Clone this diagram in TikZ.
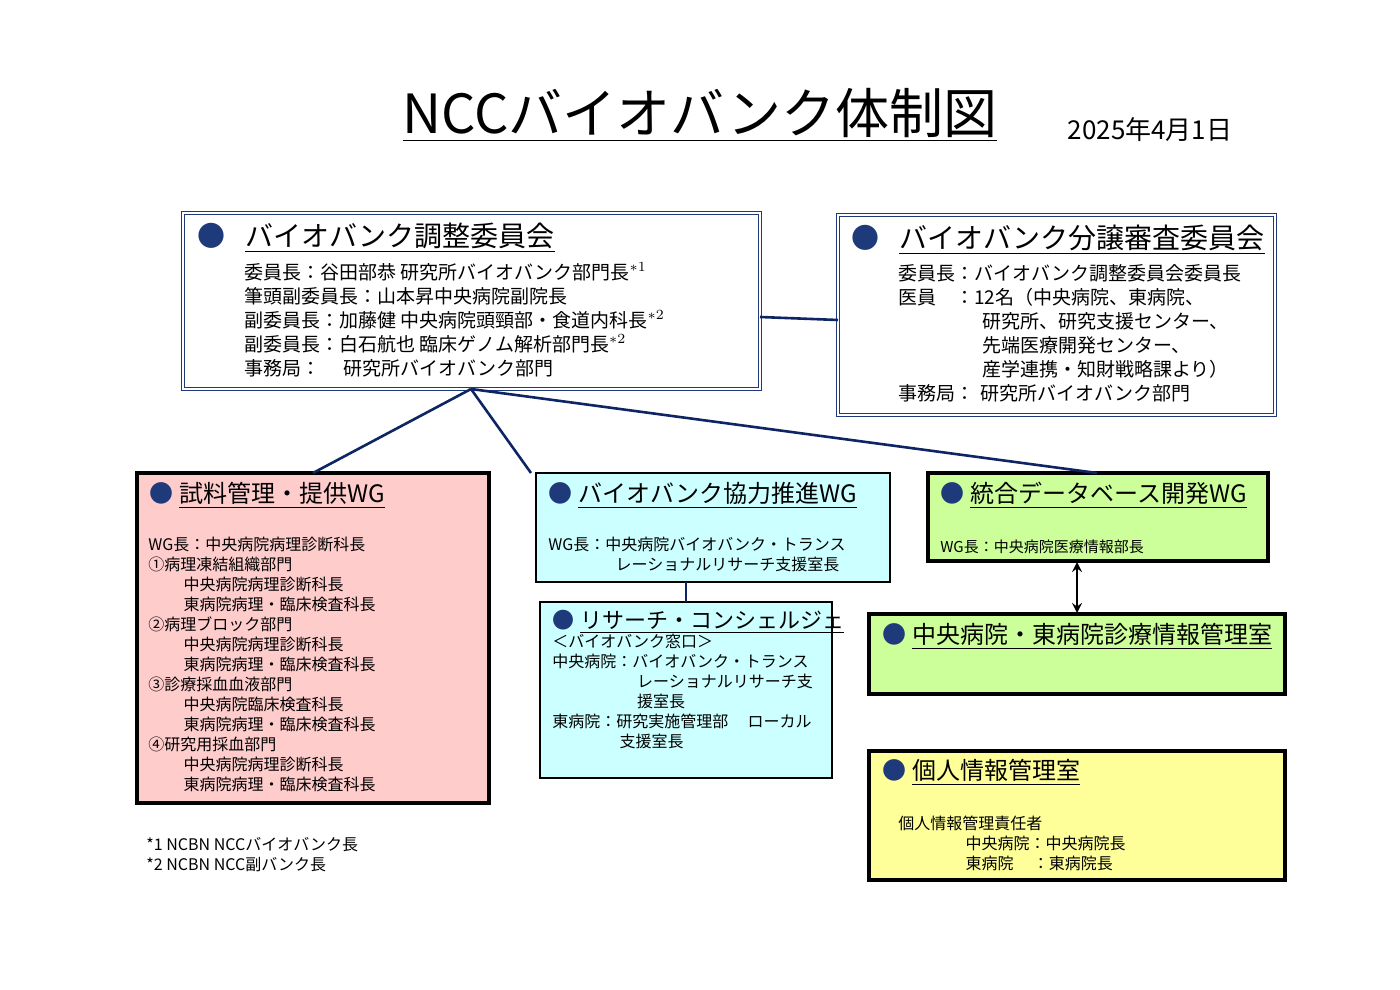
\documentclass[tikz,border=0pt]{standalone}
\usepackage{fontspec}
\setmainfont{Noto Sans CJK JP}
\newfontfamily\lat{Carlito}
\definecolor{navyb}{HTML}{1F3A7A}
\definecolor{lnk}{HTML}{0E2563}
\definecolor{pinkf}{HTML}{FFCCCC}
\definecolor{cyanf}{HTML}{CCFFFF}
\definecolor{greenf}{HTML}{CCFF99}
\definecolor{yellf}{HTML}{FFFF99}
\newcommand{\bul}{\textcolor{navyb}{●}}
\tikzset{x=0.5pt,y=-0.5pt,
 topbox/.style={draw=navyb,double,double distance=1.2pt,line width=0.5pt},
 wgbox/.style={draw=black,line width=1.6pt},
 body/.style={anchor=north west,align=left,inner sep=0pt,font=\fontsize{8}{10}\selectfont},
 ttl/.style={anchor=west,inner sep=0pt,font=\fontsize{12}{14}\selectfont},
 link/.style={draw=lnk,line width=1.3pt}}
\begin{document}
\begin{tikzpicture}
\useasboundingbox (0,0) rectangle (1400,989);
\node[anchor=center,inner sep=0pt,font=\fontsize{27}{30}\selectfont] (title) at (700,115) {\underline{NCCバイオバンク体制図}};
\node[anchor=center,inner sep=0pt,font=\fontsize{13}{15}\selectfont] (date) at (1150,130) {2025年4月1日};
% boxes
\path[topbox] (183,213) rectangle (760,389);
\coordinate (A) at (471,389);
\path[topbox] (838,215) rectangle (1275,415);
\path[wgbox,fill=pinkf] (137,473) rectangle (489,803);
\path[wgbox,fill=cyanf,line width=1.3pt] (536,473) rectangle (890,582);
\path[wgbox,fill=cyanf,line width=1.3pt] (540,602) rectangle (832,778);
\path[wgbox,fill=greenf] (928,473) rectangle (1268,561);
\path[wgbox,fill=greenf] (869,614) rectangle (1285,694);
\path[wgbox,fill=yellf] (869,751) rectangle (1285,880);
% top-left
\node[ttl,font=\fontsize{14}{16}\selectfont] (t1) at (197,238) {\bul\hspace{10pt}\underline{バイオバンク調整委員会}};
\node[body,font=\fontsize{9.5}{12}\selectfont] (b1) at (244,262) {委員長：谷田部恭 研究所バイオバンク部門長$^{*1}$\\筆頭副委員長：山本昇中央病院副院長\\副委員長：加藤健 中央病院頭頸部・食道内科長$^{*2}$\\副委員長：白石航也 臨床ゲノム解析部門長$^{*2}$\\事務局：\hspace{1.2em}研究所バイオバンク部門};
% top-right
\node[ttl,font=\fontsize{14}{16}\selectfont] (t2) at (851,240) {\bul\hspace{10pt}\underline{バイオバンク分譲審査委員会}};
\node[body,font=\fontsize{9.5}{12}\selectfont] (b2) at (898,264) {委員長：バイオバンク調整委員会委員長\\医員\hspace{1em}：12名（中央病院、東病院、\\\hspace*{4.4em}研究所、研究支援センター、\\\hspace*{4.4em}先端医療開発センター、\\\hspace*{4.4em}産学連携・知財戦略課より）\\事務局：\hspace{0.3em}研究所バイオバンク部門};
% red
\node[ttl] (t3) at (149,495) {\bul\hspace{3pt}\underline{試料管理・提供WG}};
\node[body] (b3) at (148,537) {WG長：中央病院病理診断科長\\①病理凍結組織部門\\\hspace*{2.2em}中央病院病理診断科長\\\hspace*{2.2em}東病院病理・臨床検査科長\\②病理ブロック部門\\\hspace*{2.2em}中央病院病理診断科長\\\hspace*{2.2em}東病院病理・臨床検査科長\\③診療採血血液部門\\\hspace*{2.2em}中央病院臨床検査科長\\\hspace*{2.2em}東病院病理・臨床検査科長\\④研究用採血部門\\\hspace*{2.2em}中央病院病理診断科長\\\hspace*{2.2em}東病院病理・臨床検査科長};
% cyan1
\node[ttl] (t4) at (548,495) {\bul\hspace{3pt}\underline{バイオバンク協力推進WG}};
\node[body] (b4) at (548,537) {WG長：中央病院バイオバンク・トランス\\\hspace*{4.2em}レーショナルリサーチ支援室長};
% cyan2
\node[ttl,font=\fontsize{11}{13}\selectfont] (t5) at (552,622) {\bul\hspace{3pt}\underline{リサーチ・コンシェルジェ}};
\node[body] (b5) at (552,634) {＜バイオバンク窓口＞\\中央病院：バイオバンク・トランス\\\hspace*{5.3em}レーショナルリサーチ支\\\hspace*{5.3em}援室長\\東病院：研究実施管理部\hspace{1.2em}ローカル\\\hspace*{4.2em}支援室長};
% green1
\node[ttl] (t6) at (940,495) {\bul\hspace{3pt}\underline{統合データベース開発WG}};
\node[body,font=\fontsize{7.5}{9}\selectfont] (b6) at (940,539) {WG長：中央病院医療情報部長};
% green2
\node[ttl] (t7) at (882,636) {\bul\hspace{3pt}\underline{中央病院・東病院診療情報管理室}};
% yellow
\node[ttl] (t8) at (882,772) {\bul\hspace{3pt}\underline{個人情報管理室}};
\node[body] (b8) at (898,816) {個人情報管理責任者\\\hspace*{4.2em}中央病院：中央病院長\\\hspace*{4.2em}東病院\hspace{1.2em}：東病院長};
% footnotes
\node[body] (fn) at (146,837) {*1 NCBN NCCバイオバンク長\\*2 NCBN NCC副バンク長};
% connectors
\coordinate (R) at (313,473); \coordinate (C) at (531,473); \coordinate (G) at (1097,473);
\draw[link] (A) -- (R); \draw[link] (A) -- (C); \draw[link] (A) -- (G);
\coordinate (TLr) at (760,317); \coordinate (TRl) at (838,320);
\draw[link] (TLr) -- (TRl);
\coordinate (c1b) at (686,582); \coordinate (c2t) at (686,602);
\draw[link] (c1b) -- (c2t);
\coordinate (g1b) at (1077,562); \coordinate (g2t) at (1077,613);
\draw[line width=1.2pt,<->,>=stealth] (g1b) -- (g2t);
\end{tikzpicture}
\end{document}
